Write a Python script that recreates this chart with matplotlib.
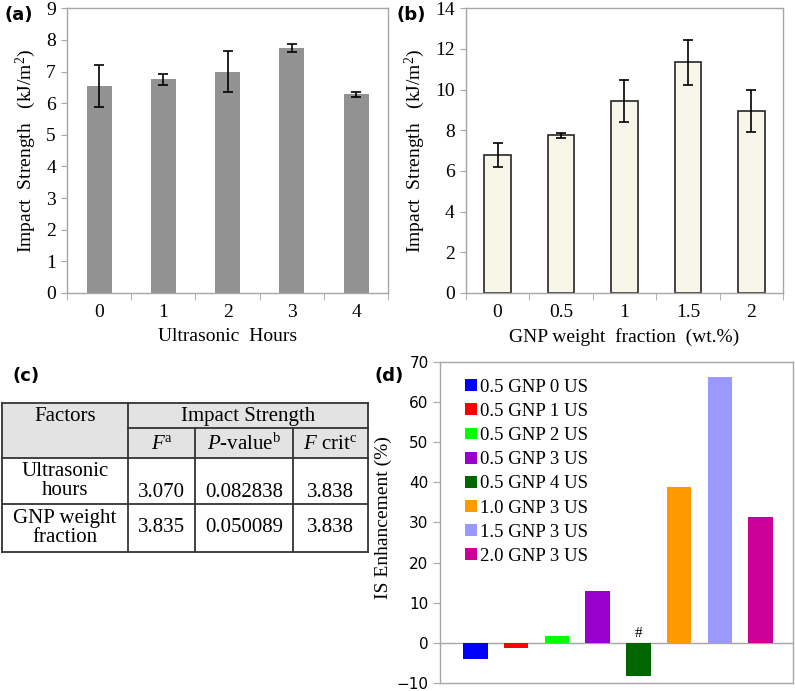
import matplotlib
matplotlib.use("Agg")
import matplotlib.pyplot as plt
from matplotlib.patches import Rectangle, Patch

# ---------------- data ----------------
us_hours = ["0", "1", "2", "3", "4"]
us_strength = [6.55, 6.75, 7.0, 7.75, 6.28]
us_err = [0.67, 0.17, 0.65, 0.13, 0.08]

gnp_frac = ["0", "0.5", "1", "1.5", "2"]
gnp_strength = [6.8, 7.75, 9.45, 11.35, 8.95]
gnp_err = [0.6, 0.12, 1.03, 1.1, 1.05]

enh_labels = ["0.5 GNP 0 US", "0.5 GNP 1 US", "0.5 GNP 2 US", "0.5 GNP 3 US",
              "0.5 GNP 4 US", "1.0 GNP 3 US", "1.5 GNP 3 US", "2.0 GNP 3 US"]
enh_values = [-4.0, -1.2, 1.8, 13.0, -8.3, 38.8, 66.3, 31.3]
enh_colors = ["#0000ff", "#ff0000", "#00ff00", "#9900cc", "#006600",
              "#ff9900", "#9999ff", "#cc0099"]

table_factors = ["Ultrasonic\nhours", "GNP weight\nfraction"]
table_F = ["3.070", "3.835"]
table_P = ["0.082838", "0.050089"]
table_Fcrit = ["3.838", "3.838"]

# ---------------- style ----------------
SERIF = ["Liberation Serif", "DejaVu Serif"]
plt.rcParams["font.family"] = SERIF
plt.rcParams["mathtext.fontset"] = "custom"
plt.rcParams["mathtext.rm"] = "Liberation Serif"
plt.rcParams["mathtext.it"] = "Liberation Serif:italic"
FS = 14
GRAY = "#a6a6a6"

fig = plt.figure(figsize=(7.95, 6.91), dpi=100)


def style_axes(ax):
    for s in ax.spines.values():
        s.set_color(GRAY)
        s.set_linewidth(1.0)
    ax.tick_params(axis="y", direction="out", length=4, color=GRAY,
                   labelsize=FS, pad=4)
    ax.tick_params(axis="x", which="major", length=0, labelsize=FS, pad=8)


def excel_bar(ax, cats, vals, errs, color, edge, width, ymax, step, xlabel):
    x = list(range(len(cats)))
    ax.bar(x, vals, width=width, color=color, edgecolor=edge,
           linewidth=1.2 if edge != "none" else 0, zorder=2)
    ax.errorbar(x, vals, yerr=errs, fmt="none", ecolor="black",
                elinewidth=1.2, capsize=3.5, capthick=1.2, zorder=3)
    ax.set_xlim(-0.5, len(cats) - 0.5)
    ax.set_ylim(0, ymax)
    ax.set_yticks([v for v in range(0, ymax + 1, step)])
    ax.set_xticks(x)
    ax.set_xticklabels(cats)
    ax.set_xticks([i - 0.5 for i in range(len(cats) + 1)], minor=True)
    ax.set_ylabel("Impact  Strength   (kJ/m$^2$)", fontsize=FS, labelpad=6)
    ax.set_xlabel(xlabel, fontsize=FS, labelpad=5)
    style_axes(ax)
    ax.tick_params(axis="x", which="minor", direction="out", length=5,
                   color=GRAY)


# (a)
ax_a = fig.add_axes([0.0843, 0.576, 0.404, 0.412])
excel_bar(ax_a, us_hours, us_strength, us_err, "#929292", "none", 0.39,
          9, 1, "Ultrasonic  Hours")

# (b)
ax_b = fig.add_axes([0.586, 0.576, 0.399, 0.412])
excel_bar(ax_b, gnp_frac, gnp_strength, gnp_err, "#f8f6e9", "#262626", 0.42,
          14, 2, "GNP weight  fraction  (wt.%)")

# panel letters
LFONT = dict(fontsize=13, fontweight="bold", family=["DejaVu Sans"])
fig.text(5 / 795, 1 - 15 / 691, "(a)", ha="left", va="center", **LFONT)
fig.text(396 / 795, 1 - 15 / 691, "(b)", ha="left", va="center", **LFONT)
fig.text(12 / 795, 1 - 376 / 691, "(c)", ha="left", va="center", **LFONT)
fig.text(374 / 795, 1 - 376 / 691, "(d)", ha="left", va="center", **LFONT)

# (d)
ax_d = fig.add_axes([0.553, 0.0116, 0.444, 0.4645])
xd = list(range(len(enh_values)))
ax_d.bar(xd, enh_values, width=0.6, color=enh_colors, zorder=2)
ax_d.axhline(0, color=GRAY, linewidth=1.0, zorder=1)
ax_d.set_xlim(-0.88, len(enh_values) - 0.21)
ax_d.set_ylim(-10, 70)
ax_d.set_yticks(range(-10, 71, 10))
ax_d.set_xticks([])
style_axes(ax_d)
ax_d.tick_params(axis="y", labelsize=11, labelfontfamily="DejaVu Sans",
                 length=5, pad=3)
ax_d.set_ylabel("IS Enhancement (%)", fontsize=FS)
ax_d.yaxis.set_label_coords(-0.136, 0.514)
ax_d.text(xd[4], 0.6, "#", ha="center", va="bottom", fontsize=11)
handles = [Patch(facecolor=c, edgecolor="none") for c in enh_colors]
ax_d.legend(handles, enh_labels, loc="upper left", frameon=False,
            fontsize=13.5, handlelength=0.6, handleheight=0.6,
            handletextpad=0.2, labelspacing=0.38,
            bbox_to_anchor=(0.025, 1.0))

# (c) table
ax_t = fig.add_axes([0.0, 0.0, 1.0, 1.0], zorder=-1)
ax_t.set_xlim(0, 795)
ax_t.set_ylim(691, 0)
ax_t.axis("off")
cols = [2, 128, 195, 293, 368]
rows = [403, 428, 458, 504, 552]
HEAD = "#e3e3e3"
ax_t.add_patch(Rectangle((cols[0], rows[0]), cols[4] - cols[0],
                         rows[2] - rows[0], facecolor=HEAD, edgecolor="none"))
LW = 1.3
LC = "#333333"
for y in [rows[0], rows[2], rows[3], rows[4]]:
    ax_t.plot([cols[0], cols[4]], [y, y], color=LC, lw=LW)
ax_t.plot([cols[1], cols[4]], [rows[1], rows[1]], color=LC, lw=LW)
ax_t.plot([cols[0], cols[0]], [rows[0], rows[4]], color=LC, lw=LW)
ax_t.plot([cols[4], cols[4]], [rows[0], rows[4]], color=LC, lw=LW)
ax_t.plot([cols[1], cols[1]], [rows[0], rows[4]], color=LC, lw=LW)
for c in [cols[2], cols[3]]:
    ax_t.plot([c, c], [rows[1], rows[4]], color=LC, lw=LW)

TFS = 15
ax_t.text((cols[0] + cols[1]) / 2, rows[0] + 13, "Factors", ha="center",
          va="center", fontsize=TFS)
ax_t.text((cols[1] + cols[4]) / 2, rows[0] + 13, "Impact Strength",
          ha="center", va="center", fontsize=TFS)
hy = (rows[1] + rows[2]) / 2 + 1
ax_t.text((cols[1] + cols[2]) / 2, hy, r"$\it{F}$$^{\rm a}$", ha="center",
          va="center", fontsize=TFS)
ax_t.text((cols[2] + cols[3]) / 2, hy, r"$\it{P}$-value$^{\rm b}$",
          ha="center", va="center", fontsize=TFS)
ax_t.text((cols[3] + cols[4]) / 2, hy, r"$\it{F}$ crit$^{\rm c}$",
          ha="center", va="center", fontsize=TFS)

for i in range(2):
    top, bot = rows[2 + i], rows[3 + i]
    ax_t.text((cols[0] + cols[1]) / 2, (top + bot) / 2, table_factors[i],
              ha="center", va="center", fontsize=TFS, linespacing=1.0)
    ny = bot - 12 if i == 0 else (top + bot) / 2
    for j, v in enumerate([table_F[i], table_P[i], table_Fcrit[i]]):
        ax_t.text((cols[1 + j] + cols[2 + j]) / 2, ny, v, ha="center",
                  va="center", fontsize=TFS)

fig.savefig("out.png", dpi=100)
